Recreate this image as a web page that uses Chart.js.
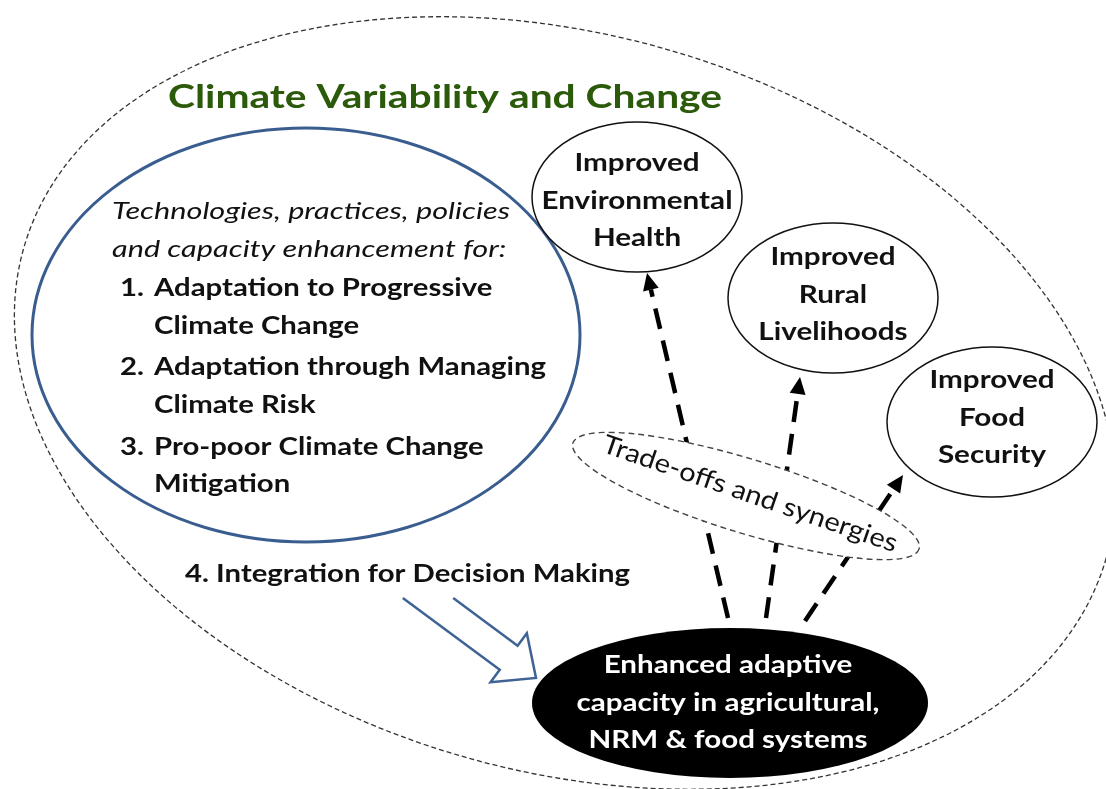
<!DOCTYPE html>
<html>
<head>
<meta charset="utf-8">
<script src="https://cdn.jsdelivr.net/npm/chart.js@4.4.1/dist/chart.umd.min.js"></script>
<style>
  html, body { margin: 0; padding: 0; background: #fff; }
  canvas { display: block; }
</style>
</head>
<body>
<canvas id="diagram" width="1106" height="789"></canvas>
<script>
// texts
const title = 'Climate Variability and Change';
const introLines = ['Technologies, practices, policies', 'and capacity enhancement for:'];
const strategyNumbers = ['1.', '', '2.', '', '3.', ''];
const strategyLines = ['Adaptation to Progressive', 'Climate Change', 'Adaptation through Managing', 'Climate Risk', 'Pro-poor Climate Change', 'Mitigation'];
const integrationLabel = '4. Integration for Decision Making';
const tradeLabel = 'Trade-offs and synergies';
const capacityLabel = ['Enhanced adaptive', 'capacity in agricultural,', 'NRM & food systems'];
const outcomeLabels = [
    ['Improved', 'Environmental', 'Health'],
    ['Improved', 'Rural', 'Livelihoods'],
    ['Improved', 'Food', 'Security']
];

// node centres (diagram units = px of the original)
const outcomeX = [637, 833, 992];
const outcomeY = [197, 298, 422];
const capacityX = 730;
const capacityY = 703;

// dashed links from the capacity node to the outcomes
const linkFromX = [728, 766, 805];
const linkFromY = [618, 618, 621];
const linkToX = [647, 800, 903];
const linkToY = [273, 377, 475];

const diagramPlugin = {
    id: 'diagram',
    afterDraw(chart) {
        const ctx = chart.ctx;
        const xs = chart.scales.x, ys = chart.scales.y;
        const X = v => xs.getPixelForValue(v);
        const Y = v => ys.getPixelForValue(v);
        const W = v => xs.getPixelForValue(v) - xs.getPixelForValue(0);
        const H = v => ys.getPixelForValue(v) - ys.getPixelForValue(0);

        function ellipse(cx, cy, rx, ry, rot, fill, stroke, lw, dash) {
            ctx.save();
            ctx.beginPath();
            ctx.ellipse(X(cx), Y(cy), W(rx), H(ry), rot * Math.PI / 180, 0, Math.PI * 2);
            if (fill) {
                ctx.fillStyle = fill;
                ctx.fill();
            }
            if (stroke) {
                ctx.setLineDash(dash || []);
                ctx.lineWidth = lw;
                ctx.strokeStyle = stroke;
                ctx.stroke();
            }
            ctx.restore();
        }

        // horizontal squeeze so a reference string gets the wanted width
        function squeeze(font, ref, width) {
            ctx.font = font;
            return width / ctx.measureText(ref).width;
        }

        function text(str, x, y, font, color, align, sx, rot) {
            ctx.save();
            ctx.font = font;
            ctx.fillStyle = color;
            ctx.textAlign = align;
            ctx.textBaseline = 'middle';
            ctx.translate(X(x), Y(y));
            if (rot) ctx.rotate(rot * Math.PI / 180);
            ctx.scale(sx, 1);
            ctx.fillText(str, 0, 0);
            ctx.restore();
        }

        function dashedArrow(x1, y1, x2, y2) {
            const ax = X(x1), ay = Y(y1), bx = X(x2), by = Y(y2);
            const len = Math.hypot(bx - ax, by - ay);
            const ux = (bx - ax) / len, uy = (by - ay) / len;
            const head = 17, half = 8;
            ctx.save();
            ctx.strokeStyle = '#000';
            ctx.fillStyle = '#000';
            ctx.lineWidth = 4.5;
            ctx.setLineDash([21, 12]);
            ctx.beginPath();
            ctx.moveTo(ax, ay);
            ctx.lineTo(bx - ux * head, by - uy * head);
            ctx.stroke();
            ctx.setLineDash([]);
            ctx.beginPath();
            ctx.moveTo(bx, by);
            ctx.lineTo(bx - ux * head - uy * half, by - uy * head + ux * half);
            ctx.lineTo(bx - ux * head + uy * half, by - uy * head - ux * half);
            ctx.closePath();
            ctx.fill();
            ctx.restore();
        }

        // outer dashed boundary
        ellipse(565, 403, 563, 368, 16, null, '#333', 1.3, [5, 3]);

        // strategies ellipse
        ellipse(306, 335, 274, 207, 0, null, '#3a5d8f', 3);

        // title
        const tf = 'bold 33px Lato';
        text(title, 168, 97, tf, '#2a5a0a', 'left', squeeze(tf, title, 554));

        // intro (italic)
        const itf = 'italic 24px Lato';
        const si = squeeze(itf, introLines[0], 398);
        text(introLines[0], 112, 211, itf, '#111', 'left', si);
        text(introLines[1], 112, 249, itf, '#111', 'left', si);

        // numbered strategies
        const bf = 'bold 24px Lato';
        const sb = squeeze(bf, strategyLines[2], 392);
        const lineY = [288, 326, 367, 405, 447, 484];
        strategyLines.forEach((s, i) => {
            if (strategyNumbers[i]) text(strategyNumbers[i], 120, lineY[i], bf, '#111', 'left', sb);
            text(s, 154, lineY[i], bf, '#111', 'left', sb);
        });

        // integration label
        const gf = 'bold 25px Lato';
        text(integrationLabel, 185, 574, gf, '#111', 'left', squeeze(gf, integrationLabel, 445));

        // hollow blue arrow into the capacity node
        (function () {
            const tip = [536, 678], dir = [108, 80];
            const l = Math.hypot(dir[0], dir[1]);
            const u = [dir[0] / l, dir[1] / l], n = [-u[1], u[0]];
            const headLen = 34, headHalf = 30.5, hw = 15, tailY = 598;
            const base = [tip[0] - u[0] * headLen, tip[1] - u[1] * headLen];
            const pL = [base[0] + n[0] * hw, base[1] + n[1] * hw];
            const pR = [base[0] - n[0] * hw, base[1] - n[1] * hw];
            const tL = (pL[1] - tailY) / u[1], tR = (pR[1] - tailY) / u[1];
            const pts = [
                [pL[0] - u[0] * tL, tailY],
                pL,
                [base[0] + n[0] * headHalf, base[1] + n[1] * headHalf],
                tip,
                [base[0] - n[0] * headHalf, base[1] - n[1] * headHalf],
                pR,
                [pR[0] - u[0] * tR, tailY]
            ];
            ctx.save();
            ctx.beginPath();
            pts.forEach((p, i) => i ? ctx.lineTo(X(p[0]), Y(p[1])) : ctx.moveTo(X(p[0]), Y(p[1])));
            ctx.fillStyle = '#fff';
            ctx.fill();
            ctx.strokeStyle = '#3f6394';
            ctx.lineWidth = 2.5;
            ctx.lineJoin = 'miter';
            ctx.stroke();
            ctx.restore();
        })();

        // dashed links
        linkFromX.forEach((x, i) => dashedArrow(x, linkFromY[i], linkToX[i], linkToY[i]));

        // trade-offs ellipse over the links
        ellipse(746, 496, 181, 37, 17, '#fff', '#444', 1.4, [6, 4]);
        const rf = '26px Lato';
        text(tradeLabel, 750, 494, rf, '#111', 'center', squeeze(rf, tradeLabel, 310), 19);

        // outcome nodes
        const of = 'bold 25px Lato';
        const so = squeeze(of, 'Environmental', 191);
        const firstLineOffset = [-34, -41, -42];
        outcomeX.forEach((x, i) => {
            ellipse(x, outcomeY[i], 105, 75, 0, '#fff', '#111', 1.5);
            outcomeLabels[i].forEach((s, j) => {
                text(s, x, outcomeY[i] + firstLineOffset[i] + j * 37.5, of, '#111', 'center', so);
            });
        });

        // capacity node
        ellipse(capacityX, capacityY, 198, 75, 0, '#000', null);
        const sc = squeeze(of, capacityLabel[1], 303);
        capacityLabel.forEach((s, j) => {
            text(s, capacityX - 2, capacityY - 38 + j * 37.5, of, '#fff', 'center', sc);
        });
    }
};

new Chart(document.getElementById('diagram'), {
    type: 'scatter',
    data: {
        datasets: [{
            label: 'nodes',
            data: outcomeX.map((x, i) => ({x: x, y: outcomeY[i]})).concat([{x: capacityX, y: capacityY}]),
            pointRadius: 0
        }]
    },
    options: {
        responsive: false,
        animation: false,
        layout: {padding: 0},
        scales: {
            x: {type: 'linear', min: 0, max: 1106, display: false},
            y: {type: 'linear', min: 0, max: 789, reverse: true, display: false}
        },
        plugins: {
            legend: {display: false},
            tooltip: {enabled: false}
        }
    },
    plugins: [diagramPlugin]
});
</script>
</body>
</html>
